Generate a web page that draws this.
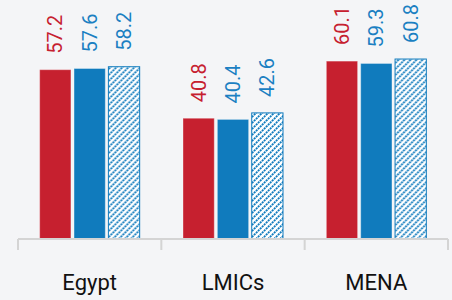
<!DOCTYPE html>
<html>
<head>
<meta charset="utf-8">
<script src="https://cdn.jsdelivr.net/npm/d3@7"></script>
<style>
  body { margin: 0; background: #f4f5f7; }
  svg { display: block; font-family: Roboto, "Noto Sans", sans-serif; }
</style>
</head>
<body>
<div id="chart"></div>
<script>
// Data
const categories = ["Egypt", "LMICs", "MENA"];
const seriesKeys = ["s1", "s2", "s3"];
const s1Values = [57.2, 40.8, 60.1];
const s2Values = [57.6, 40.4, 59.3];
const s3Values = [58.2, 42.6, 60.8];

const data = categories.map((c, i) => ({
  category: c,
  values: [s1Values[i], s2Values[i], s3Values[i]].map((v, j) => ({ key: seriesKeys[j], value: v })),
}));

// Dimensions
let width = 452;
let height = 300;
let margin = { top: 17, right: 4, bottom: 61, left: 18 };

// Colors
let red = "#c6202f";
let blue = "#107bbd";
let labelBlue = "#1b80c2";

// Scales
let xScale = d3
  .scaleBand()
  .domain(categories)
  .range([margin.left, width - margin.right])
  .paddingInner(0)
  .paddingOuter(0);

let innerScale = d3
  .scaleBand()
  .domain(seriesKeys)
  .range([0, 100])
  .paddingInner(0.09);

let yScale = d3
  .scaleLinear()
  .domain([0, 75])
  .range([height - margin.bottom, margin.top]);

const svg = d3
  .select("#chart")
  .append("svg")
  .attr("width", width)
  .attr("height", height);

// Hatch pattern
const defs = svg.append("defs");
const pattern = defs
  .append("pattern")
  .attr("id", "hatch")
  .attr("patternUnits", "userSpaceOnUse")
  .attr("width", 6)
  .attr("height", 6);
pattern.append("rect").attr("width", 6).attr("height", 6).attr("fill", "#fff");
pattern
  .append("path")
  .attr("d", "M-1,7 L7,-1 M-1,1 L1,-1 M5,7 L7,5")
  .attr("stroke", blue)
  .attr("stroke-width", 1.8)
  .attr("stroke-dasharray", "2 0.8");

// Groups
const groupG = svg
  .append("g")
  .selectAll("g")
  .data(data)
  .join("g")
  .attr("transform", (d) => {
    let bw = xScale.bandwidth();
    return `translate(${xScale(d.category) + (bw - 100) / 2},0)`;
  });

groupG
  .selectAll("rect")
  .data((d) => d.values)
  .join("rect")
  .attr("x", (d) => innerScale(d.key))
  .attr("width", innerScale.bandwidth())
  .attr("y", (d) => yScale(d.value))
  .attr("height", (d) => yScale(0) - yScale(d.value))
  .attr("fill", (d) => (d.key === "s1" ? red : d.key === "s2" ? blue : "url(#hatch)"))
  .attr("stroke", (d) => (d.key === "s3" ? blue : "rgba(255,255,255,0.35)"))
  .attr("stroke-width", 1);

// Value labels
groupG
  .selectAll("text")
  .data((d) => d.values)
  .join("text")
  .attr("transform", (d) => {
    let x = innerScale(d.key) + innerScale.bandwidth() / 2;
    let y = yScale(d.value) - 16;
    return `translate(${x + 7},${y}) rotate(-90)`;
  })
  .attr("fill", (d) => (d.key === "s1" ? red : labelBlue))
  .attr("font-size", 20)
  .text((d) => d.value.toFixed(1));

// X axis
const xAxisG = svg
  .append("g")
  .attr("transform", `translate(0,${height - margin.bottom})`);

xAxisG
  .append("line")
  .attr("x1", margin.left)
  .attr("x2", width - margin.right)
  .attr("stroke", "#d4d4d4")
  .attr("stroke-width", 2);

xAxisG
  .selectAll(".tick")
  .data(categories.concat([null]))
  .join("line")
  .attr("class", "tick")
  .attr("x1", (d) => (d ? xScale(d) : width - margin.right))
  .attr("x2", (d) => (d ? xScale(d) : width - margin.right))
  .attr("y1", 0)
  .attr("y2", 11)
  .attr("stroke", "#d4d4d4")
  .attr("stroke-width", 2);

xAxisG
  .selectAll(".cat")
  .data(categories)
  .join("text")
  .attr("class", "cat")
  .attr("x", (d) => xScale(d) + xScale.bandwidth() / 2)
  .attr("y", 51)
  .attr("text-anchor", "middle")
  .attr("fill", "#111")
  .attr("font-size", 22)
  .text((d) => d);
</script>
</body>
</html>
